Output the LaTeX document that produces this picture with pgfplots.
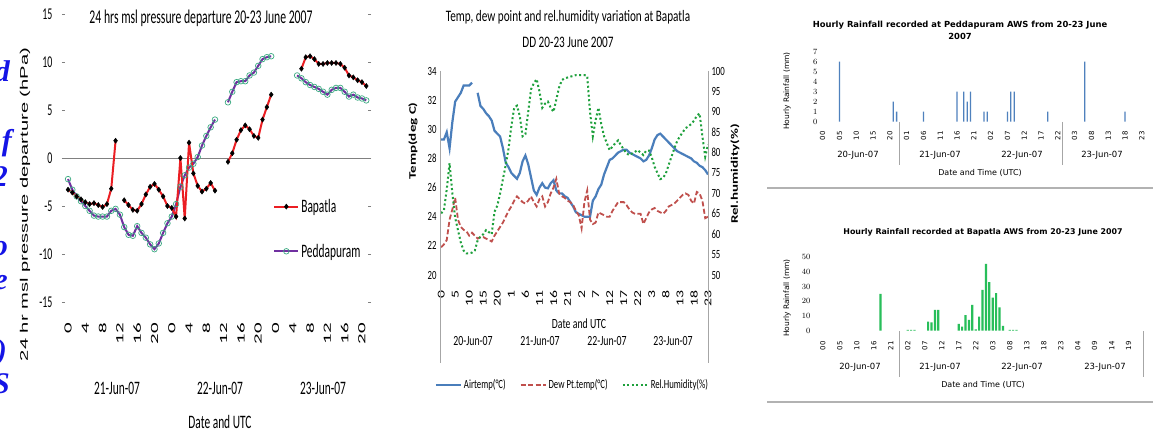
\documentclass[border=0pt]{standalone}
\usepackage{fontspec}
\usepackage{pgfplots}
\pgfplotsset{compat=1.18}
\setmainfont{Carlito}
\newfontfamily\lcond[FakeStretch=0.6]{Carlito}
\newfontfamily\lrot[FakeStretch=1.9]{Carlito}
\newfontfamily\ylab[FakeStretch=1.83]{Liberation Sans}
\newfontfamily\mcond[FakeStretch=0.7]{Carlito}
\newfontfamily\mrot[FakeStretch=1.5]{Carlito}
\newfontfamily\dv{DejaVu Sans}
\newfontfamily\bluefont{Liberation Serif}
\newcommand{\fs}[1]{\fontsize{#1}{#1}\selectfont}

\definecolor{bapred}{RGB}{235,30,35}
\definecolor{pedpurple}{RGB}{112,48,160}
\definecolor{pedgreen}{RGB}{60,170,130}
\definecolor{airblue}{RGB}{74,126,187}
\definecolor{dewred}{RGB}{192,80,77}
\definecolor{rhgreen}{RGB}{30,160,60}
\definecolor{rainblue}{RGB}{79,129,189}
\definecolor{raingreen}{RGB}{40,190,90}
\definecolor{textblue}{RGB}{20,20,230}

\begin{document}
\begin{tikzpicture}
\fill[white] (0,0) rectangle (1153pt,434pt);
\path[use as bounding box] (0,0) rectangle (1153pt,434pt);

% ---------------- left: pressure departure ----------------
\begin{axis}[
  at={(65pt,117.6pt)}, anchor=south west,
  scale only axis, width=303pt, height=307.2pt,
  xmin=-0.7, xmax=69.4, ymin=-16.5, ymax=15.5,
  axis line style={draw=none},
  xtick={0,4,...,68},
  xticklabels={0,4,8,12,16,20,0,4,8,12,16,20,0,4,8,12,16,20},
  xtick style={draw=none},
  xticklabel style={font=\lrot\fs{11}, rotate=90, anchor=east},
  ytick={-15,-10,...,15},
  yticklabels={-15,-10,-5,0,5,10,15},
  ytick style={gray, line width=0.6pt},
  tick align=outside, major tick length=3pt,
  yticklabel style={font=\lcond\fs{16.5}, xshift=-6pt},
  extra y ticks={0}, extra y tick labels={},
  extra y tick style={grid=major, major grid style={gray, line width=0.8pt}},
  unbounded coords=jump,
  reverse legend,
  legend cell align=left,
  legend image code/.code={\draw[mark repeat=2,mark phase=2,#1] plot coordinates {(0pt,0pt) (12pt,0pt) (24pt,0pt)};},
  legend style={at={(0.677,0.395)}, anchor=north west, draw=none, fill=none,
    font=\lcond\fs{19}, row sep=26pt},
]
\addplot[color=pedpurple, line width=2pt, mark=o, mark size=2.8pt,
  mark options={draw=pedgreen, solid, line width=0.7pt}] coordinates {
 (0,-2.2) (1,-3.3) (2,-4.0) (3,-4.5) (4,-5.0) (5,-5.5) (6,-6.0) (7,-6.1)
 (8,-6.1) (9,-6.1) (10,-5.5) (11,-5.3) (12,-5.9) (13,-7.2) (14,-8.0) (15,-8.1)
 (16,-7.1) (17,-7.8) (18,-8.3) (19,-9.0) (20,-9.5) (21,-8.9) (22,-7.8) (23,-6.8)
 (24,-6.1) (25,-4.8) (26,-3.0) (27,-1.8) (28,-1.0) (29,-0.6) (30,0.1) (31,1.3)
 (32,2.3) (33,3.2) (34,4.0) (35,nan)
 (37,5.8) (38,6.9) (39,7.9) (40,8.0) (41,8.0) (42,8.6) (43,8.9) (44,9.6)
 (45,10.3) (46,10.5) (47,10.6) (48,nan)
 (53,8.6) (54,8.3) (55,7.9) (56,7.6) (57,7.4) (58,7.2) (59,6.9) (60,6.6)
 (61,7.1) (62,7.3) (63,7.3) (64,6.9) (65,6.4) (66,6.6) (67,6.3) (68,6.2) (69,6.0)
};
\addlegendentry{Peddapuram}
\addplot[color=bapred, line width=2pt, mark=diamond*, mark size=2.6pt,
  mark options={black, solid, line width=0.4pt}] coordinates {
 (0,-3.3) (1,-3.6) (2,-4.0) (3,-4.3) (4,-4.6) (5,-4.8) (6,-4.7) (7,-4.9)
 (8,-5.1) (9,-4.8) (10,-3.2) (11,1.8) (12,nan)
 (13,-4.4) (14,-4.9) (15,-5.4) (16,-5.5) (17,-4.8) (18,-3.8) (19,-3.0) (20,-2.7)
 (21,-3.3) (22,-4.0) (23,-5.0) (24,-5.2) (25,-6.1) (26,0.0) (27,-6.3) (28,1.6)
 (29,-1.6) (30,-2.9) (31,-3.5) (32,-3.2) (33,-2.6) (34,-3.4) (35,nan)
 (37,-0.4) (38,0.5) (39,1.9) (40,2.9) (41,3.4) (42,3.0) (43,2.3) (44,2.1)
 (45,4.0) (46,5.3) (47,6.6) (48,nan)
 (54,9.3) (55,10.5) (56,10.6) (57,10.3) (58,9.8) (59,9.8) (60,9.9) (61,9.9)
 (62,9.9) (63,9.8) (64,9.4) (65,8.6) (66,8.4) (67,8.1) (68,7.9) (69,7.5)
};
\addlegendentry{Bapatla}
\end{axis}

\node[font=\lcond\fs{19.5}] at (201pt,434pt-18pt) {24 hrs msl pressure departure 20-23 June 2007};
\node[font=\ylab\fs{11}, rotate=90] at (25pt,434pt-204.5pt) {24 hr msl pressure departure (hPa)};
\node[font=\lcond\fs{19}] at (117pt,434pt-388pt) {21-Jun-07};
\node[font=\lcond\fs{19}] at (220pt,434pt-388pt) {22-Jun-07};
\node[font=\lcond\fs{19}] at (323pt,434pt-388pt) {23-Jun-07};
\node[font=\lcond\fs{19}] at (220pt,434pt-422pt) {Date and UTC};

% blue letters cut at the left edge (as in the source image)
\begin{scope}[every node/.style={font=\bluefont\bfseries\itshape\fs{30}, text=textblue, anchor=east, inner sep=0pt}]
\node at (10pt,434pt-71pt) {d};
\node at (12pt,434pt-143pt) {f};
\node at (8pt,434pt-177pt) {2};
\node at (8pt,434pt-249pt) {o};
\node at (8pt,434pt-283pt) {e};
\node at (7pt,434pt-353pt) {)};
\node at (10pt,434pt-384pt) {S};
\end{scope}

% ---------------- middle: temperature, dew point, RH ----------------
\begin{axis}[
  at={(440pt,159pt)}, anchor=south west,
  scale only axis, width=268pt, height=204pt,
  xmin=-0.4, xmax=95, ymin=20, ymax=34,
  axis line style={draw=none},
  xtick={0,5,...,95},
  xticklabels={0,5,10,15,20,1,6,11,16,21,2,7,12,17,22,3,8,13,18,23},
  xtick style={draw=none},
  xticklabel style={font=\mrot\fs{10.5}, yshift=-12pt, rotate=90, anchor=east},
  ytick={20,22,...,34},
  yticklabels={20,22,24,26,28,30,32,34},
  ytick style={draw=none},
  yticklabel style={font=\mcond\fs{12.5}},
  unbounded coords=jump,
]
\addplot[airblue, line width=2.2pt] coordinates {
 (0,29.3) (1,29.3) (2,29.8) (3,28.7) (4,30.5) (5,31.9) (6,32.2) (7,32.5)
 (8,33.0) (9,33.0) (10,33.0) (11,33.2) (12,nan)
 (13,32.5) (14,31.6) (15,31.4) (16,31.1) (17,30.9) (18,30.6) (19,29.9) (20,29.7)
 (21,29.5) (22,28.7) (23,27.7) (24,27.4) (25,27.0) (26,26.8) (27,26.6) (28,27.0)
 (29,27.8) (30,28.2) (31,27.6) (32,26.7) (33,25.8) (34,25.5) (35,26.0) (36,26.3)
 (37,26.0) (38,25.95) (39,26.3) (40,26.5) (41,25.8) (42,25.6) (43,25.6) (44,25.4)
 (45,25.3) (46,25.0) (47,24.7) (48,24.3) (49,24.2) (50,24.1) (51,24.0) (52,24.0)
 (53,24.0) (54,25.1) (55,25.4) (56,25.9) (57,26.2) (58,26.9) (59,27.4) (60,27.9)
 (61,28.0) (62,28.2) (63,28.4) (64,28.5) (65,28.6) (66,28.6) (67,28.4) (68,28.3)
 (69,28.2) (70,28.1) (71,28.0) (72,27.8) (73,27.9) (74,28.2) (75,28.7) (76,29.3)
 (77,29.6) (78,29.7) (79,29.5) (80,29.3) (81,29.1) (82,28.9) (83,28.7) (84,28.5)
 (85,28.4) (86,28.3) (87,28.2) (88,28.1) (89,28.0) (90,27.8) (91,27.7) (92,27.5)
 (93,27.4) (94,27.2) (95,26.9)
};
\addplot[dewred, line width=1.8pt, dash pattern=on 5pt off 2.5pt] coordinates {
 (0,21.9) (1,22.1) (2,22.4) (3,23.8) (4,24.5) (5,25.3) (6,23.8) (7,23.3)
 (8,23.1) (9,23.0) (10,22.7) (11,22.9) (12,22.7) (13,22.5) (14,22.6) (15,22.6)
 (16,22.5) (17,22.4) (18,22.3) (19,22.7) (20,23.0) (21,23.3) (22,23.6) (23,24.0)
 (24,24.4) (25,24.7) (26,25.1) (27,25.4) (28,25.2) (29,25.0) (30,24.9) (31,25.1)
 (32,25.4) (33,25.0) (34,24.7) (35,25.2) (36,25.4) (37,24.7) (38,25.0) (39,25.6)
 (40,26.0) (41,26.6) (42,25.6) (43,25.4) (44,25.3) (45,25.1) (46,25.0) (47,24.8)
 (48,24.4) (49,24.1) (50,23.2) (51,25.0) (52,25.8) (53,23.8) (54,23.5) (55,23.6)
 (56,24.3) (57,24.2) (58,24.1) (59,24.0) (60,24.0) (61,24.4) (62,24.7) (63,25.0)
 (64,25.0) (65,25.0) (66,24.8) (67,24.5) (68,24.3) (69,24.2) (70,24.2) (71,24.2)
 (72,23.5) (73,23.9) (74,24.3) (75,24.5) (76,24.6) (77,24.4) (78,24.3) (79,24.2)
 (80,24.4) (81,24.7) (82,24.8) (83,24.9) (84,25.1) (85,25.3) (86,25.5) (87,25.6)
 (88,25.5) (89,25.1) (90,24.9) (91,25.7) (92,25.6) (93,25.1) (94,23.9) (95,24.0)
};
\end{axis}

\begin{axis}[
  at={(440pt,159pt)}, anchor=south west,
  scale only axis, width=268pt, height=204pt,
  xmin=-0.4, xmax=95, ymin=50, ymax=100,
  axis x line=none, axis y line*=right,
  axis line style={draw=none},
  ytick={50,55,...,100},
  yticklabels={50,55,60,65,70,75,80,85,90,95,100},
  ytick style={draw=none},
  yticklabel style={font=\mcond\fs{12.5}},
  legend columns=3,
  legend image code/.code={\draw[#1] (0pt,0pt) -- (25pt,0pt);},
  legend style={at={(0.494,-0.539)}, anchor=center, draw=none, fill=none,
    font=\mcond\fs{12.5}, /tikz/every even column/.append style={column sep=12pt}},
]
\addlegendimage{airblue, line width=2.2pt}
\addlegendentry{Airtemp(°C)}
\addlegendimage{dewred, line width=1.8pt, dash pattern=on 5pt off 2.5pt}
\addlegendentry{Dew Pt.temp(°C)}
\addplot[rhgreen, line width=2pt, dash pattern=on 2pt off 2.5pt] coordinates {
 (0,65.1) (1,65.9) (2,71) (3,77.4) (4,70) (5,64) (6,61) (7,58)
 (8,56) (9,55.3) (10,55.3) (11,55.5) (12,56) (13,58.5) (14,59.4) (15,60)
 (16,61) (17,60.5) (18,60) (19,65.5) (20,67) (21,70) (22,73.5) (23,77)
 (24,81) (25,86.5) (26,91) (27,91.5) (28,89) (29,84) (30,84.5) (31,90)
 (32,95.5) (33,97) (34,98) (35,95) (36,91) (37,92) (38,92.5) (39,91)
 (40,90) (41,93) (42,96) (43,97.8) (44,98.2) (45,98.4) (46,98.6) (47,98.8)
 (48,99) (49,99) (50,99) (51,99) (52,98.8) (53,90) (54,84) (55,88)
 (56,91) (57,87) (58,84) (59,82.3) (60,80.6) (61,81.5) (62,82.3) (63,83)
 (64,81.8) (65,80.8) (66,79.8) (67,79.4) (68,79.8) (69,80.2) (70,80.6) (71,80)
 (72,79.4) (73,80.5) (74,80.5) (75,78.8) (76,76.5) (77,75) (78,73.5) (79,73.8)
 (80,74.9) (81,77) (82,79) (83,81) (84,82.8) (85,84) (86,85) (87,86)
 (88,86.4) (89,87) (90,87.8) (91,89) (92,89.6) (93,84) (94,79) (95,82)
};
\addlegendentry{Rel.Humidity(\%)}
\end{axis}

\draw[gray!70, line width=1pt] (440pt,434pt-71pt) -- (440pt,434pt-363pt);
\draw[gray!70, line width=1pt] (708pt,434pt-71pt) -- (708pt,434pt-363pt);
\node[font=\mcond\fs{16}] at (568pt,434pt-17pt) {Temp, dew point and rel.humidity variation at Bapatla};
\node[font=\mcond\fs{16}] at (568pt,434pt-42pt) {DD 20-23 June 2007};
\node[font=\mrot\bfseries\fs{10}, rotate=90] at (413pt,434pt-141pt) {Temp(deg C)};
\node[font=\mrot\bfseries\fs{10}, rotate=90] at (735pt,434pt-174pt) {Rel.humidity(\%)};
\node[font=\mcond\fs{14}] at (579pt,434pt-324pt) {Date and UTC};
\node[font=\mcond\fs{14}] at (473pt,434pt-341pt) {20-Jun-07};
\node[font=\mcond\fs{14}] at (540pt,434pt-341pt) {21-Jun-07};
\node[font=\mcond\fs{14}] at (607pt,434pt-341pt) {22-Jun-07};
\node[font=\mcond\fs{14}] at (673pt,434pt-341pt) {23-Jun-07};

% ---------------- right top: Peddapuram rainfall ----------------
\begin{axis}[
  at={(821pt,312.3pt)}, anchor=south west,
  scale only axis, width=324.2pt, height=70pt,
  xmin=-0.5, xmax=96, ymin=0, ymax=7,
  axis line style={draw=none},
  ybar, bar width=1.3pt,
  xtick={0,5,...,95},
  xticklabels={00,05,10,15,20,01,06,11,16,21,02,07,12,17,22,03,08,13,18,23},
  xtick style={draw=none},
  xticklabel style={font=\dv\fs{7}, yshift=-2pt, rotate=90, anchor=east},
  ytick={0,1,...,7},
  ytick style={draw=none},
  yticklabel style={font=\dv\fs{8.5}},
]
\addplot[fill=rainblue, draw=none] coordinates {
 (5,6) (21,2) (22,1) (30,1) (40,3) (42,3) (43,2) (44,3)
 (48,1) (49,1) (55,1) (56,3) (57,3) (67,1) (78,6) (90,1)
};
\end{axis}

\node[font=\dv\bfseries\fs{8.4}] at (960pt,434pt-25pt) {Hourly Rainfall recorded at Peddapuram AWS from 20-23 June};
\node[font=\dv\bfseries\fs{8.4}] at (960pt,434pt-36pt) {2007};
\node[font=\dv\fs{7.5}, rotate=90] at (787pt,434pt-91pt) {Hourly Rainfall (mm)};
\node[font=\dv\fs{8.5}] at (858pt,434pt-155pt) {20-Jun-07};
\node[font=\dv\fs{8.5}] at (940pt,434pt-155pt) {21-Jun-07};
\node[font=\dv\fs{8.5}] at (1022pt,434pt-155pt) {22-Jun-07};
\node[font=\dv\fs{8.5}] at (1102pt,434pt-155pt) {23-Jun-07};
\node[font=\dv\fs{8}] at (980pt,434pt-173pt) {Date and Time (UTC)};
\draw[gray!70, line width=0.8pt] (899.3pt,434pt-122pt) -- (899.3pt,434pt-165pt);
\draw[gray!70, line width=0.8pt] (1062.3pt,434pt-122pt) -- (1062.3pt,434pt-165pt);
\draw[gray!60, line width=1.2pt] (767pt,434pt-188pt) -- (1153pt,434pt-188pt);

% ---------------- right bottom: Bapatla rainfall ----------------
\begin{axis}[
  at={(821pt,103.5pt)}, anchor=south west,
  scale only axis, width=322.3pt, height=73.3pt,
  xmin=-0.5, xmax=94.3, ymin=0, ymax=50,
  axis line style={draw=none},
  ybar, bar width=2.2pt,
  xtick={0,5,...,90},
  xticklabels={00,05,10,16,21,02,07,12,17,22,03,08,13,18,23,04,09,14,19},
  xtick style={draw=none},
  xticklabel style={font=\dv\fs{7}, yshift=-3pt, rotate=90, anchor=east},
  ytick={0,10,...,50},
  ytick style={draw=none},
  yticklabel style={font=\dv\fs{8.5}, xshift=-7pt},
]
\addplot[fill=raingreen, draw=none] coordinates {
 (17,25) (25,0.5) (26,0.5) (27,0.5) (31,6) (32,5.5) (33,14) (34,14)
 (40,4.5) (41,2.7) (42,10.5) (43,7.3) (44,17.5) (45,0.7) (46,9.5) (47,27.7)
 (48,45.5) (49,33) (50,22.5) (51,25.5) (52,15.7) (53,3.2) (55,0.5) (56,0.5) (57,0.5)
};
\end{axis}

\node[font=\dv\bfseries\fs{7.9}] at (983pt,434pt-232pt) {Hourly Rainfall recorded at Bapatla AWS from 20-23 June 2007};
\node[font=\dv\fs{7.5}, rotate=90] at (787pt,434pt-298pt) {Hourly Rainfall (mm)};
\node[font=\dv\fs{8.5}] at (860pt,434pt-367pt) {20-Jun-07};
\node[font=\dv\fs{8.5}] at (940pt,434pt-367pt) {21-Jun-07};
\node[font=\dv\fs{8.5}] at (1022pt,434pt-367pt) {22-Jun-07};
\node[font=\dv\fs{8.5}] at (1105pt,434pt-367pt) {23-Jun-07};
\node[font=\dv\fs{8}] at (983pt,434pt-385pt) {Date and Time (UTC)};
\draw[gray!70, line width=0.8pt] (899.3pt,434pt-331pt) -- (899.3pt,434pt-377pt);
\draw[gray!70, line width=0.8pt] (1143.3pt,434pt-331pt) -- (1143.3pt,434pt-377pt);
\draw[gray!60, line width=1.2pt] (767pt,434pt-402pt) -- (1153pt,434pt-402pt);
\end{tikzpicture}
\end{document}
